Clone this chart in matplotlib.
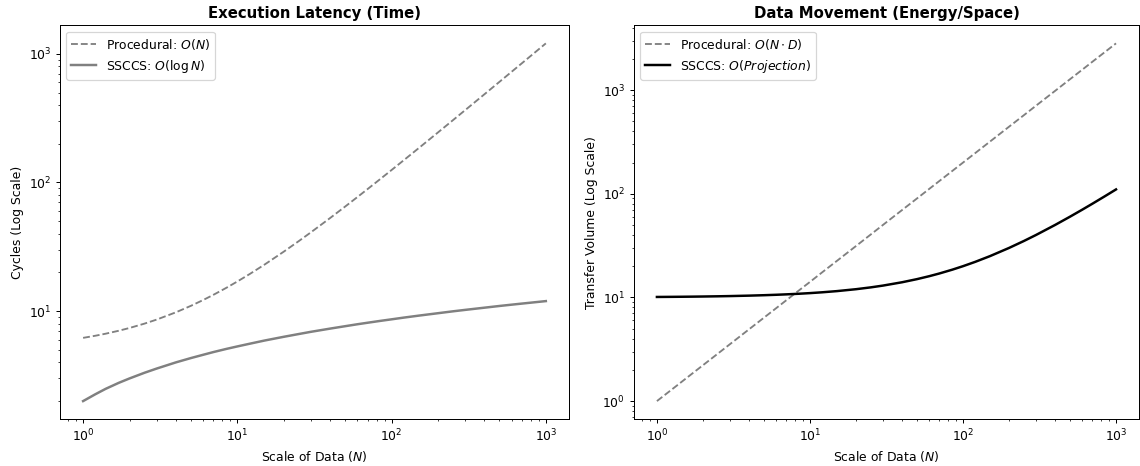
import matplotlib
matplotlib.use("Agg")
import matplotlib.pyplot as plt

# Scale of data N (sample points)
n_values = [1, 1.2, 1.4, 1.7, 2, 2.5, 3, 4, 5, 6, 7, 8.5, 10, 12, 15, 20, 25, 30, 40, 50, 60,
            70, 85, 100, 120, 150, 200, 250, 300, 400, 500, 600, 700, 850, 1000]

# Left panel: Execution latency (cycles)
latency_procedural = [6.2, 6.44, 6.68, 7.04, 7.4, 8.0, 8.6, 9.8, 11, 12.2, 13.4, 15.2, 17, 19.4,
                      23, 29, 35, 41, 53, 65, 77, 89, 107, 125, 149, 185, 245, 305, 365, 485,
                      605, 725, 845, 1025, 1205]
latency_ssccs = [2.0, 2.26, 2.49, 2.77, 3.0, 3.32, 3.58, 4.0, 4.32, 4.58, 4.81, 5.09, 5.32, 5.58,
                 5.91, 6.32, 6.64, 6.91, 7.32, 7.64, 7.91, 8.13, 8.41, 8.64, 8.91, 9.23, 9.64,
                 9.97, 10.23, 10.64, 10.97, 11.23, 11.45, 11.73, 11.97]

# Right panel: Data movement (transfer volume)
movement_procedural = [1.0, 1.233, 1.472, 1.841, 2.219, 2.868, 3.537, 4.925, 6.366, 7.85, 9.373,
                       11.72, 14.1, 17.42, 22.5, 31.3, 40.5, 50.0, 69.6, 89.9, 110.9, 132.4,
                       165.5, 199.5, 246, 318, 443, 572, 706, 982, 1270, 1566, 1871, 2338, 2818]
movement_ssccs = [10.1, 10.12, 10.14, 10.17, 10.2, 10.25, 10.3, 10.4, 10.5, 10.6, 10.7, 10.85,
                  11, 11.2, 11.5, 12, 12.5, 13, 14, 15, 16, 17, 18.5, 20, 22, 25, 30, 35, 40,
                  50, 60, 70, 80, 95, 110]

DPI = 89
fig = plt.figure(figsize=(1140 / DPI, 466 / DPI), dpi=DPI)
ax1 = fig.add_axes([0.0526, 0.1009, 0.4465, 0.8444])
ax2 = fig.add_axes([0.5561, 0.1009, 0.4430, 0.8444])

ax1.plot(n_values, latency_procedural, linestyle='--', color='gray', linewidth=1.5,
         label=r'Procedural: $O(N)$')
ax1.plot(n_values, latency_ssccs, linestyle='-', color='gray', linewidth=2,
         label=r'SSCCS: $O(\log N)$')
ax1.set_xscale('log')
ax1.set_yscale('log')
ax1.set_title('Execution Latency (Time)', fontweight='bold', fontsize=12)
ax1.set_xlabel('Scale of Data ($N$)')
ax1.set_ylabel('Cycles (Log Scale)')
ax1.legend(loc='upper left')

ax2.plot(n_values, movement_procedural, linestyle='--', color='gray', linewidth=1.5,
         label=r'Procedural: $O(N \cdot D)$')
ax2.plot(n_values, movement_ssccs, linestyle='-', color='black', linewidth=2,
         label=r'SSCCS: $O(Projection)$')
ax2.set_xscale('log')
ax2.set_yscale('log')
ax2.set_title('Data Movement (Energy/Space)', fontweight='bold', fontsize=12)
ax2.set_xlabel('Scale of Data ($N$)')
ax2.set_ylabel('Transfer Volume (Log Scale)')
ax2.legend(loc='upper left')

fig.savefig('out.png', dpi=DPI)
